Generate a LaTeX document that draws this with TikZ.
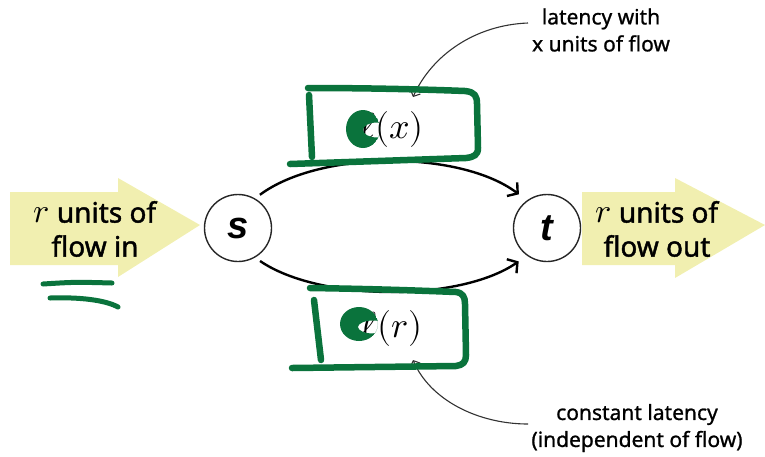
\documentclass[tikz,border=0pt]{standalone}
\usepackage{fontspec}
\usepackage{unicode-math}
\setmainfont{Noto Sans}[FakeBold=1.5]
\setmathfont{Latin Modern Math}
\newfontfamily\vertexfont{Liberation Sans}
\newfontfamily\notefont{Noto Sans}[FakeBold=1]
\usetikzlibrary{arrows.meta}
\definecolor{flowfill}{RGB}{241,239,176}
\definecolor{marker}{RGB}{10,115,60}
\definecolor{notegray}{RGB}{50,50,50}
\newcommand{\bigvar}[1]{{\fontsize{34}{34}\selectfont$#1$}}
\begin{document}
\begin{tikzpicture}[x=1pt,y=-1pt,
  flowarrow/.style={fill=flowfill,draw=none},
  flowtext/.style={align=center,font=\fontsize{28}{34}\selectfont},
  vertex/.style={circle,draw=black!85,line width=1.4pt,minimum size=67pt,inner sep=0pt,
    font=\vertexfont\fontsize{38}{40}\selectfont\bfseries\itshape},
  edge/.style={line width=2.4pt,-{Straight Barb[length=7pt,width=17pt,line width=2.4pt]}},
  latency/.style={font=\fontsize{36}{40}\selectfont},
  note/.style={align=center,font=\notefont\fontsize{21}{27}\selectfont,text=black},
  pointer/.style={draw=notegray,line width=1.1pt,-{Straight Barb[length=5pt,width=11pt,line width=1.1pt]}},
  ink/.style={draw=marker,line width=6.5pt,line cap=round,line join=round}]
\useasboundingbox (0,0) rectangle (765,456);

% source and sink arrows
\fill[flowarrow] (10,192) -- (118,192) -- (118,178) -- (200,225) -- (118,277) -- (118,265) -- (10,265) -- cycle;
\fill[flowarrow] (582,192) -- (675,192) -- (675,178) -- (765,225) -- (675,278) -- (675,265) -- (582,265) -- cycle;
\node[flowtext] (in) at (95,229) {\bigvar{r} units of\\flow in};
\node[flowtext] (out) at (657,229) {\bigvar{r} units of\\flow out};

% network
\node[vertex] (s) at (238,228) {s};
\node[vertex] (t) at (547,228) {t};
\draw[edge,shorten <=6pt,shorten >=10pt] (s.60) .. controls (320,150) and (460,150) .. (t.126);
\draw[edge,shorten <=6pt,shorten >=10pt] (s.-60) .. controls (320,302) and (460,302) .. (t.-126);

% edge latencies
\node[latency] (lx) at (392,129) {$\ell(x)$};
\node[latency] (lr) at (392,328) {$\ell(r)$};

% annotations
\node[note] (n1) at (601,30) {latency with\\x units of flow};
\node[note] (n2) at (637,428) {constant latency\\(independent of flow)};
\coordinate (p1) at (528,23);
\coordinate (q1) at (413,97);
\coordinate (p2) at (528,424);
\coordinate (q2) at (413,360);
\draw[pointer] (p1) .. controls (475,25) and (432,55) .. (q1);
\draw[pointer] (p2) .. controls (478,424) and (430,400) .. (q2);

% hand-drawn marks: boxes
\draw[ink] (308,88) .. controls (380,88) and (440,90) .. (465,91)
  .. controls (475,92) and (477,96) .. (477,104) -- (478,148)
  .. controls (478,155) and (474,157) .. (466,158) -- (290,164);
\draw[ink] (309,95) -- (312,157);
\draw[ink] (310,288) .. controls (380,289) and (430,291) .. (456,292)
  .. controls (463,293) and (465,297) .. (465,304) -- (466,355)
  .. controls (466,362) and (463,365) .. (456,366) -- (292,368);
\draw[ink] (314,300) -- (321,360);

% hand-drawn marks: crescents over the latency symbols
\begin{scope}
  \clip (363,129) ellipse[x radius=17,y radius=19];
  \fill[marker,even odd rule] (363,129) ellipse[x radius=17,y radius=19]
    (377,130) ellipse[x radius=14,y radius=7.5];
\end{scope}
\begin{scope}
  \clip (359,324) ellipse[x radius=19,y radius=17];
  \fill[marker,even odd rule] (359,324) ellipse[x radius=19,y radius=17]
    (373,327) ellipse[x radius=15,y radius=6.5];
\end{scope}

% hand-drawn marks: double underline
\draw[ink,line width=5pt] (43,284) .. controls (75,282) .. (112,283);
\draw[ink,line width=5pt] (50,298) .. controls (80,297) and (105,300) .. (118,307);
\end{tikzpicture}
\end{document}
